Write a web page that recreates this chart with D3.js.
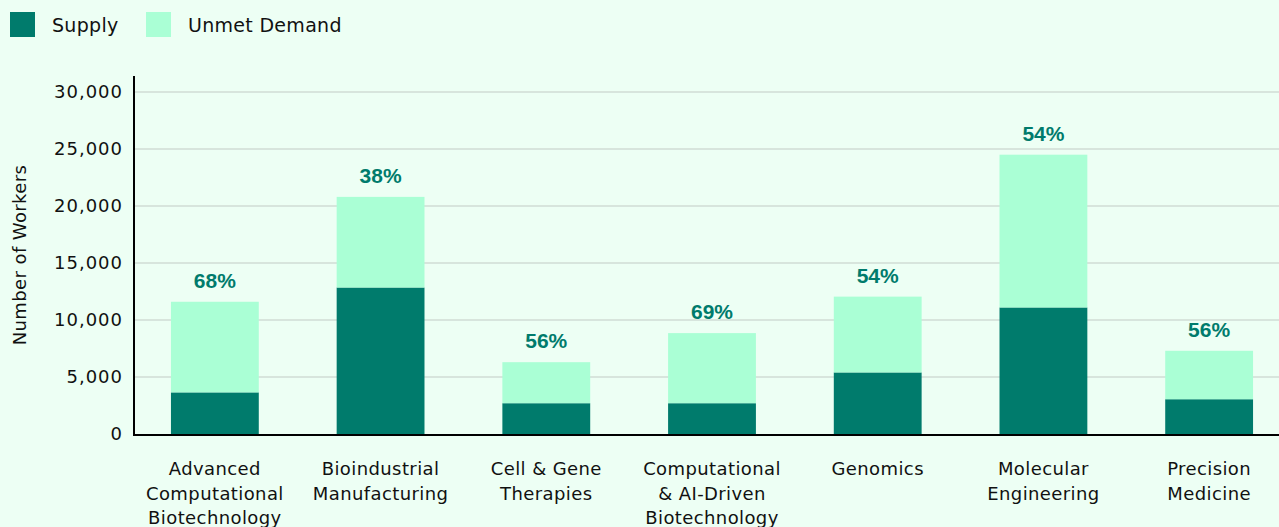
<!DOCTYPE html>
<html>
<head>
<meta charset="utf-8">
<script src="https://cdn.jsdelivr.net/npm/d3@7"></script>
<style>
  body { margin: 0; background: #edfff4; }
  svg { display: block; font-family: "DejaVu Sans", sans-serif; }
</style>
</head>
<body>
<div class="chart"></div>
<script>
// data
var categories = [
  "Advanced Computational Biotechnology",
  "Bioindustrial Manufacturing",
  "Cell & Gene Therapies",
  "Computational & AI-Driven Biotechnology",
  "Genomics",
  "Molecular Engineering",
  "Precision Medicine"
];
var labelLines = [
  ["Advanced", "Computational", "Biotechnology"],
  ["Bioindustrial", "Manufacturing"],
  ["Cell & Gene", "Therapies"],
  ["Computational", "& AI-Driven", "Biotechnology"],
  ["Genomics"],
  ["Molecular", "Engineering"],
  ["Precision", "Medicine"]
];
var supply = [3650, 12850, 2700, 2700, 5400, 11100, 3050];
var unmet  = [7950, 7950, 3600, 6150, 6650, 13400, 4250];
var gapLabels = ["68%", "38%", "56%", "69%", "54%", "54%", "56%"];
var yTicks = [0, 5000, 10000, 15000, 20000, 25000, 30000];
var seriesNames = ["Supply", "Unmet Demand"];
var colors = ["#007b6c", "#aaffd5"];

var width = 1279, height = 527;
var margin = {top: 92, bottom: 93, left: 134};

var svg = d3.select(".chart")
  .append("svg")
  .attr("width", width)
  .attr("height", height);

// band range runs a bit past the right edge, as in the original layout
var x = d3.scaleBand()
  .domain(categories)
  .range([margin.left, 1290])
  .paddingInner(0.47)
  .paddingOuter(0.223);

var y = d3.scaleLinear()
  .domain([0, 30000])
  .range([height - margin.bottom, margin.top]);

// gridlines
svg.append("g")
  .selectAll("line")
  .data(yTicks.filter(function(d){ return d > 0; }))
  .enter().append("line")
    .attr("x1", margin.left)
    .attr("x2", width)
    .attr("y1", function(d){ return y(d); })
    .attr("y2", function(d){ return y(d); })
    .attr("stroke", "#c2cbc5")
    .attr("stroke-width", 1);

// y tick labels
svg.append("g")
  .selectAll("text")
  .data(yTicks)
  .enter().append("text")
    .attr("x", 123)
    .attr("y", function(d){ return y(d); })
    .attr("dy", "0.36em")
    .attr("text-anchor", "end")
    .attr("font-size", 18)
    .attr("letter-spacing", 1)
    .attr("fill", "#111")
    .text(function(d){ return d3.format(",")(d); });

// stacked bars
var rows = categories.map(function(c, i){
  return {cat: c, supply: supply[i], unmet: unmet[i]};
});
var stack = d3.stack().keys(["supply", "unmet"])(rows);

svg.append("g")
  .selectAll("g")
  .data(stack)
  .enter().append("g")
    .attr("fill", function(d, i){ return colors[i]; })
  .selectAll("rect")
  .data(function(d){ return d; })
  .enter().append("rect")
    .attr("x", function(d){ return x(d.data.cat); })
    .attr("width", x.bandwidth())
    .attr("y", function(d){ return y(d[1]); })
    .attr("height", function(d){ return y(d[0]) - y(d[1]); });

// percent labels
svg.append("g")
  .selectAll("text")
  .data(rows)
  .enter().append("text")
    .attr("x", function(d){ return x(d.cat) + x.bandwidth() / 2; })
    .attr("y", function(d){ return y(d.supply + d.unmet) - 14; })
    .attr("text-anchor", "middle")
    .attr("font-family", "Liberation Sans, Arial, sans-serif")
    .attr("font-size", 21)
    .attr("font-weight", "bold")
    .attr("fill", "#007b6c")
    .text(function(d, i){ return gapLabels[i]; });

// axes lines
svg.append("line")
  .attr("x1", margin.left).attr("x2", margin.left)
  .attr("y1", 76).attr("y2", y(0) + 1)
  .attr("stroke", "#000").attr("stroke-width", 2);
svg.append("line")
  .attr("x1", margin.left - 1).attr("x2", width)
  .attr("y1", y(0) + 1).attr("y2", y(0) + 1)
  .attr("stroke", "#000").attr("stroke-width", 2);

// x labels
var xl = svg.append("g")
  .selectAll("text")
  .data(categories)
  .enter().append("text")
    .attr("x", function(d){ return x(d) + x.bandwidth() / 2; })
    .attr("y", 475)
    .attr("text-anchor", "middle")
    .attr("font-size", 18)
    .attr("letter-spacing", 0.4)
    .attr("fill", "#111");
xl.selectAll("tspan")
  .data(function(d, i){ return labelLines[i]; })
  .enter().append("tspan")
    .attr("x", function(){ return this.parentNode.getAttribute("x"); })
    .attr("dy", function(d, i){ return i === 0 ? 0 : 24.5; })
    .text(function(d){ return d; });

// y axis title
svg.append("text")
  .attr("transform", "translate(26,255) rotate(-90)")
  .attr("text-anchor", "middle")
  .attr("font-size", 18)
  .attr("letter-spacing", 0.4)
  .attr("fill", "#111")
  .text("Number of Workers");

// legend
var legend = svg.append("g")
  .selectAll("g")
  .data(seriesNames)
  .enter().append("g")
    .attr("transform", function(d, i){ return "translate(" + [10, 146][i] + ",12)"; });
legend.append("rect")
  .attr("width", 25).attr("height", 25)
  .attr("fill", function(d, i){ return colors[i]; });
legend.append("text")
  .attr("x", 42).attr("y", 13)
  .attr("dy", "0.36em")
  .attr("font-size", 19)
  .attr("letter-spacing", 0.3)
  .attr("fill", "#111")
  .text(function(d){ return d; });
</script>
</body>
</html>
